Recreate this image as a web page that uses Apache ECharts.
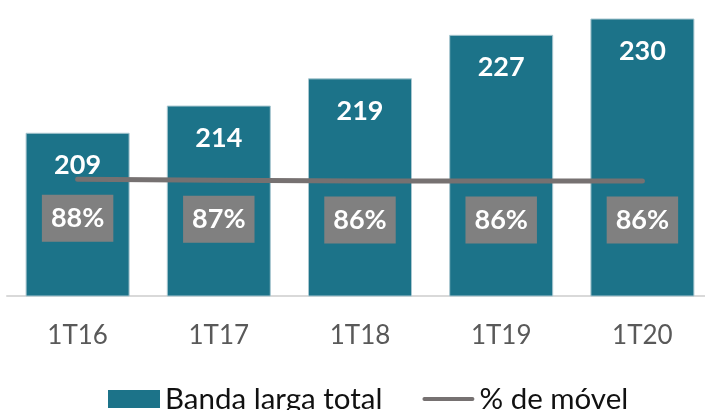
<!DOCTYPE html>
<html>
<head>
<meta charset="utf-8">
<script src="https://cdn.jsdelivr.net/npm/echarts@6/dist/echarts.min.js"></script>
<style>
  html, body { margin: 0; padding: 0; background: #fff; overflow: hidden; }
  #main { width: 713px; height: 410px; }
</style>
</head>
<body>
<div id="main"></div>
<script>
var categories = ["1T16", "1T17", "1T18", "1T19", "1T20"];
var bandaLarga = [209, 214, 219, 227, 230];
var pctMovel = [88, 87, 86, 86, 86];

var barColor = "#1c7389";
var lineColor = "#767171";
// icone de linha para a legenda (cantos minúsculos só para fixar a caixa)
var lineIcon = "path://M0,0h0.1v0.1h-0.1Z M2,7h48a2,2 0 0 1 0,4h-48a2,2 0 0 1 0,-4Z M0,18h0.1v-0.1h-0.1Z";

var myChart = echarts.init(document.getElementById("main"));
var option = {
    animation: false,
    textStyle: { fontFamily: "Lato" },
    // a área do gráfico passa um pouco da borda direita, como no original
    grid: { left: 7, right: 0, top: 0, height: 296 },
    legend: {
        left: 103,
        top: 379,
        itemWidth: 52,
        itemHeight: 18,
        itemGap: 40,
        textStyle: { fontSize: 29.5, color: "#111", fontFamily: "Lato" },
        data: [
            { name: "Banda larga total", icon: "rect", itemStyle: { borderWidth: 0 } },
            { name: "% de móvel", icon: lineIcon }
        ]
    },
    xAxis: {
        type: "category",
        data: categories,
        axisTick: { show: false },
        axisLine: { onZero: false, lineStyle: { color: "#d9d9d9", width: 2 } },
        axisLabel: { fontSize: 26, color: "#595959", margin: 27, fontFamily: "Lato" }
    },
    yAxis: [
        { type: "value", min: 179, max: 233.4, show: false, splitLine: { show: false } },
        { type: "value", min: -50, max: 300, show: false, splitLine: { show: false } }
    ],
    series: [
        {
            name: "Banda larga total",
            type: "bar",
            barWidth: 104,
            itemStyle: { color: barColor, borderColor: "#a9c7d0", borderWidth: 1 },
            label: {
                show: true,
                position: "insideTop",
                distance: 19,
                color: "#fff",
                fontWeight: "bold",
                fontSize: 27,
                fontFamily: "Lato"
            },
            data: bandaLarga
        },
        {
            name: "% de móvel",
            type: "line",
            yAxisIndex: 1,
            symbol: "circle",
            symbolSize: 1,
            showSymbol: true,
            lineStyle: { color: lineColor, width: 5, cap: "round" },
            itemStyle: { color: lineColor },
            label: {
                show: true,
                position: "bottom",
                distance: 15,
                formatter: "{c}%",
                color: "#fff",
                fontWeight: "bold",
                fontSize: 27,
                lineHeight: 27,
                fontFamily: "Lato",
                backgroundColor: "#808080",
                padding: [10, 9, 10, 9]
            },
            z: 3,
            data: pctMovel
        }
    ]
};
myChart.setOption(option);
window.addEventListener("resize", function () {
    myChart.resize();
});
</script>
</body>
</html>
